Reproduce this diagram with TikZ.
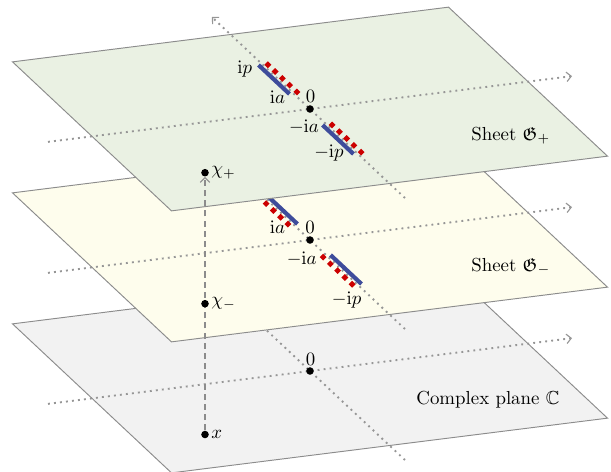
\documentclass[tikz,border=0pt]{standalone}
\usepackage{amssymb}
\usetikzlibrary{arrows.meta,shapes.geometric}
\definecolor{sheetP}{RGB}{234,241,227}
\definecolor{sheetM}{RGB}{254,253,237}
\definecolor{sheetC}{RGB}{242,242,242}
\definecolor{cutblue}{RGB}{62,76,155}
\definecolor{cutred}{RGB}{204,0,0}
\definecolor{edgegray}{RGB}{140,140,140}
\definecolor{axisgray}{RGB}{150,150,150}
\begin{document}
\begin{tikzpicture}[x=0.53pt,y=-0.53pt,
  plane/.style={draw=edgegray, line width=0.5pt},
  axisline/.style={draw=axisgray, line width=1pt, dash pattern=on 1pt off 2.2pt},
  tipend/.style={-{Straight Barb[length=2.5pt,width=5pt,line width=0.6pt]}},
  dashline/.style={draw=edgegray, line width=1pt, dash pattern=on 3.2pt off 2.2pt},
  cutline/.style={draw=cutblue, line width=2.2pt},
  rdot/.style={diamond, fill=cutred, inner sep=0pt, minimum size=3.8pt},
  bdot/.style={circle, fill=black, inner sep=0pt, minimum size=4pt},
  lab/.style={inner sep=0pt, anchor=base},
  ptlab/.style={inner sep=0pt, anchor=west},
  sheetlab/.style={inner sep=0pt, anchor=base west},
  planecs/.style={x={(0.53pt,0.0665pt)}, y={(-0.5655pt,0.53pt)}}
]
\useasboundingbox (0,0) rectangle (611,471);

% ---------- bottom plane: complex plane C ----------
\begin{scope}[shift={(310,371)}, planecs]
  \filldraw[plane, fill=sheetC] (-218,74.5) -- (218,74.5) -- (218,-74.5) -- (-218,-74.5) -- cycle;
  \coordinate (cReA) at (-262,0); \coordinate (cReB) at (262,0);
  \coordinate (cImA) at (0,-89);  \coordinate (cImB) at (0,92);
  \draw[axisline, tipend] (cReA) -- (cReB);
  \draw[axisline, tipend] (cImA) -- (cImB);
  \node[bdot] (cO) at (0,0) {};
\end{scope}
\node[lab] (cZero) at (310.5,365) {$0$};
\node[sheetlab] (cName) at (416,404) {Complex plane $\mathbb{C}$};

% ---------- middle plane: sheet G- ----------
\begin{scope}[shift={(310,240)}, planecs]
  \filldraw[plane, fill=sheetM] (-218,74.5) -- (218,74.5) -- (218,-74.5) -- (-218,-74.5) -- cycle;
  \coordinate (mReA) at (-262,0); \coordinate (mReB) at (262,0);
  \coordinate (mImA) at (0,-89);  \coordinate (mImB) at (0,92);
  \draw[axisline, tipend] (mReA) -- (mReB);
  \draw[axisline, tipend] (mImA) -- (mImB);
  \coordinate (mUa) at (4,15.5);  \coordinate (mUb) at (4,44.5);
  \coordinate (mLa) at (4,-15.5); \coordinate (mLb) at (4,-44.5);
  \draw[cutline] (mUa) -- (mUb);
  \draw[cutline] (mLa) -- (mLb);
  \foreach \k in {0,...,4} {
    \node[rdot] (mRu\k) at (-4.5,16.5+6.8*\k) {};
    \node[rdot] (mRl\k) at (-4.5,-16.5-6.8*\k) {};
  }
  \node[bdot] (mO) at (0,0) {};
\end{scope}
\node[lab] (mZero) at (310,233.3) {$0$};
\node[lab] (mIa) at (277.5,233.3) {$\mathrm{i}a$};
\node[lab] (mNIa) at (301.7,264) {$-\mathrm{i}a$};
\node[lab] (mNIp) at (346.7,304.7) {$-\mathrm{i}p$};
\node[sheetlab] (mName) at (471,271) {Sheet $\mathfrak{G}_-$};

% ---------- top plane: sheet G+ ----------
\begin{scope}[shift={(310,109)}, planecs]
  \filldraw[plane, fill=sheetP] (-218,74.5) -- (218,74.5) -- (218,-74.5) -- (-218,-74.5) -- cycle;
  \coordinate (tReA) at (-262,0); \coordinate (tReB) at (262,0);
  \coordinate (tImA) at (0,-89);  \coordinate (tImB) at (0,92);
  \draw[axisline, tipend] (tReA) -- (tReB);
  \draw[axisline, tipend] (tImA) -- (tImB);
  \coordinate (tUa) at (-4,15.5);  \coordinate (tUb) at (-4,44.5);
  \coordinate (tLa) at (-4,-15.5); \coordinate (tLb) at (-4,-44.5);
  \draw[cutline] (tUa) -- (tUb);
  \draw[cutline] (tLa) -- (tLb);
  \foreach \k in {0,...,4} {
    \node[rdot] (tRu\k) at (4.5,16.5+6.8*\k) {};
    \node[rdot] (tRl\k) at (4.5,-16.5-6.8*\k) {};
  }
  \node[bdot] (tO) at (0,0) {};
\end{scope}
\node[lab] (tZero) at (310.5,102.7) {$0$};
\node[lab] (tIp) at (244.7,73) {$\mathrm{i}p$};
\node[lab] (tIa) at (277.5,103) {$\mathrm{i}a$};
\node[lab] (tNIa) at (304,132.3) {$-\mathrm{i}a$};
\node[lab] (tNIp) at (329,157) {$-\mathrm{i}p$};
\node[sheetlab] (tName) at (471,140) {Sheet $\mathfrak{G}_+$};

% ---------- lift of x ----------
\node[bdot] (xpt) at (205,434.5) {};
\node[bdot] (chiP) at (205,172.7) {};
\draw[dashline, tipend] (xpt) -- (chiP);
\node[bdot] (chiM) at (205,303.7) {};
\node[ptlab] (xlab) at (211,434.5) {$x$};
\node[ptlab] (chiPlab) at (211,172.7) {$\chi_+$};
\node[ptlab] (chiMlab) at (211,303.7) {$\chi_-$};
\end{tikzpicture}
\end{document}
